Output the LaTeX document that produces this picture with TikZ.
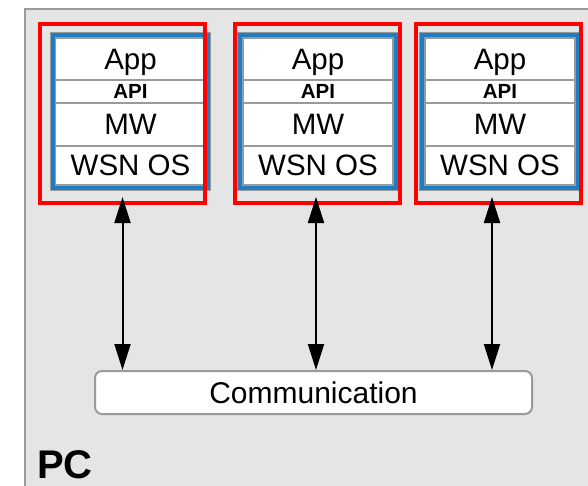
\documentclass[tikz,border=0pt]{standalone}
\usepackage{fontspec}
\setmainfont{Liberation Sans}
\usetikzlibrary{arrows.meta,positioning}
\definecolor{frameRed}{HTML}{FF0000}
\definecolor{stackBlue}{HTML}{1F7DC4}
\definecolor{lineGray}{HTML}{9A9A9A}
\definecolor{panelGray}{HTML}{E5E5E5}

\begin{document}
\begin{tikzpicture}[
        x=1pt, y=-1pt,
        node distance=0pt,
        redframe/.style={rectangle, draw=frameRed, line width=4pt, minimum width=165pt, minimum height=179pt, inner sep=0pt},
        stack/.style={rectangle, draw=lineGray, line width=0.8pt, double=stackBlue, double distance=4.5pt, fill=white, minimum width=155pt, minimum height=152pt, inner sep=0pt, outer sep=0pt},
        layer/.style={rectangle, draw=lineGray, line width=1.5pt, fill=white, minimum width=150pt, inner sep=0pt, outer sep=0pt, text height=21pt, text depth=0pt, font=\fontsize{29.5}{30}\selectfont},
        apibox/.style={layer, minimum height=23pt, text height=14.5pt, font=\bfseries\fontsize{20.5}{22}\selectfont},
        commbox/.style={rectangle, rounded corners=7pt, draw=lineGray, line width=2pt, fill=white, minimum width=437pt, minimum height=43pt, text height=21.5pt, text depth=0pt, font=\fontsize{30}{32}\selectfont},
        arrow/.style={{Triangle[length=26pt,width=16pt]}-{Triangle[length=26pt,width=16pt]}, line width=2pt, draw=black}
      ]
        \useasboundingbox (0,0) rectangle (588,486);
        % PC panel
        \fill[panelGray] (25,9) rectangle (588,486);
        \draw[lineGray, line width=1.5pt] (25,486) |- (588,9);

        % node 1
        \node[stack] (stack1) at (130.5,111.5) {};
        \node[layer, minimum height=42pt, below=2.5pt of stack1.north] (app1) {App};
        \node[apibox, below=of app1] (api1) {API};
        \node[layer, minimum height=43pt, below=of api1] (mw1) {MW};
        \node[layer, minimum height=39pt, below=of mw1] (os1) {WSN OS};
        \node[redframe] (red1) at (122.5,113.5) {};

        % node 2
        \node[stack] (stack2) at (318,111.5) {};
        \node[layer, minimum height=42pt, below=2.5pt of stack2.north] (app2) {App};
        \node[apibox, below=of app2] (api2) {API};
        \node[layer, minimum height=43pt, below=of api2] (mw2) {MW};
        \node[layer, minimum height=39pt, below=of mw2] (os2) {WSN OS};
        \node[redframe] (red2) at (317.5,113.5) {};

        % node 3
        \node[stack] (stack3) at (500,111.5) {};
        \node[layer, minimum height=42pt, below=2.5pt of stack3.north] (app3) {App};
        \node[apibox, below=of app3] (api3) {API};
        \node[layer, minimum height=43pt, below=of api3] (mw3) {MW};
        \node[layer, minimum height=39pt, below=of mw3] (os3) {WSN OS};
        \node[redframe] (red3) at (498,113.5) {};

        \node[commbox] (comm) at (313.5,392.5) {Communication};
        \node[anchor=base west, inner sep=0pt, font=\bfseries\fontsize{40}{42}\selectfont] (pc) at (37,478) {PC};

        \draw[arrow, shorten <=-8pt] (red1.south) -- (red1.south |- comm.north);
        \draw[arrow, shorten <=-8pt] ([xshift=-1.5pt]red2.south) -- ([xshift=-1.5pt]red2.south |- comm.north);
        \draw[arrow, shorten <=-8pt] ([xshift=-6pt]red3.south) -- ([xshift=-6pt]red3.south |- comm.north);
      \end{tikzpicture}
\end{document}
